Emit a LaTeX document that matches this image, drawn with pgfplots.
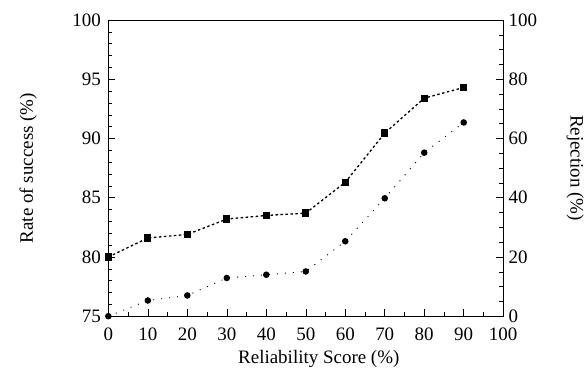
\documentclass[border=0pt]{standalone}
\usepackage{pgfplots}
\pgfplotsset{compat=1.18}
\usepackage{fontspec}
\setmainfont{Liberation Serif}
\begin{document}
\begin{tikzpicture}
\pgfplotsset{
  every axis/.append style={
    scale only axis, width=395.5pt, height=296.7pt,
    font=\fontsize{19}{22}\selectfont,
    tick label style={font=\fontsize{19}{22}\selectfont},
    /pgf/number format/assume math mode=true,
    tick align=inside,
    xmin=0, xmax=100,
    major tick length=7pt, minor tick length=4pt,
    every tick/.style={black, line width=0.5pt},
  }
}
\begin{axis}[
  ymin=75, ymax=100,
  xtick={0,10,...,100}, minor x tick num=1,
  ytick={75,80,...,100}, minor y tick num=4,
  xtick pos=bottom, ytick pos=left,
  yticklabel style={xshift=-4pt},
  xticklabel style={yshift=-8pt},
  xlabel={Reliability Score (\%)},
  ylabel={Rate of success (\%)},
  xlabel style={at={(axis description cs:0.533,0)}, anchor=north, yshift=-31pt},
  ylabel style={at={(axis description cs:-0.203,0.5)}, anchor=center},
  axis line style={line width=0.6pt},
]
\addplot[black, line width=1.3pt, dash pattern=on 2.5pt off 2.5pt,
  mark=square*, mark size=3pt, mark options={solid}]
  coordinates {(0,80.0) (10,81.6) (20,81.9) (30,83.2) (40,83.5) (50,83.7)
               (60,86.3) (70,90.45) (80,93.4) (90,94.3)};
\end{axis}
\begin{axis}[
  ymin=0, ymax=100,
  axis x line=none, axis y line*=right,
  ytick={0,20,...,100}, minor y tick num=3,
  yticklabel style={xshift=2pt},
  ylabel={Rejection (\%)},
  ylabel style={at={(axis description cs:1.182,0.5)}, anchor=center, rotate=180},
  axis line style={line width=0.6pt},
]
\addplot[black, line width=0.9pt, dash pattern=on 1pt off 7pt,
  mark=*, mark size=2.8pt, mark options={solid}]
  coordinates {(0,0.0) (10,5.3) (20,7.0) (30,12.9) (40,14.0) (50,15.1)
               (60,25.3) (70,39.8) (80,55.2) (90,65.4)};
\end{axis}
\path[use as bounding box] (-108.5pt,-55.3pt) rectangle (478.5pt,316.7pt);
\end{tikzpicture}
\end{document}
